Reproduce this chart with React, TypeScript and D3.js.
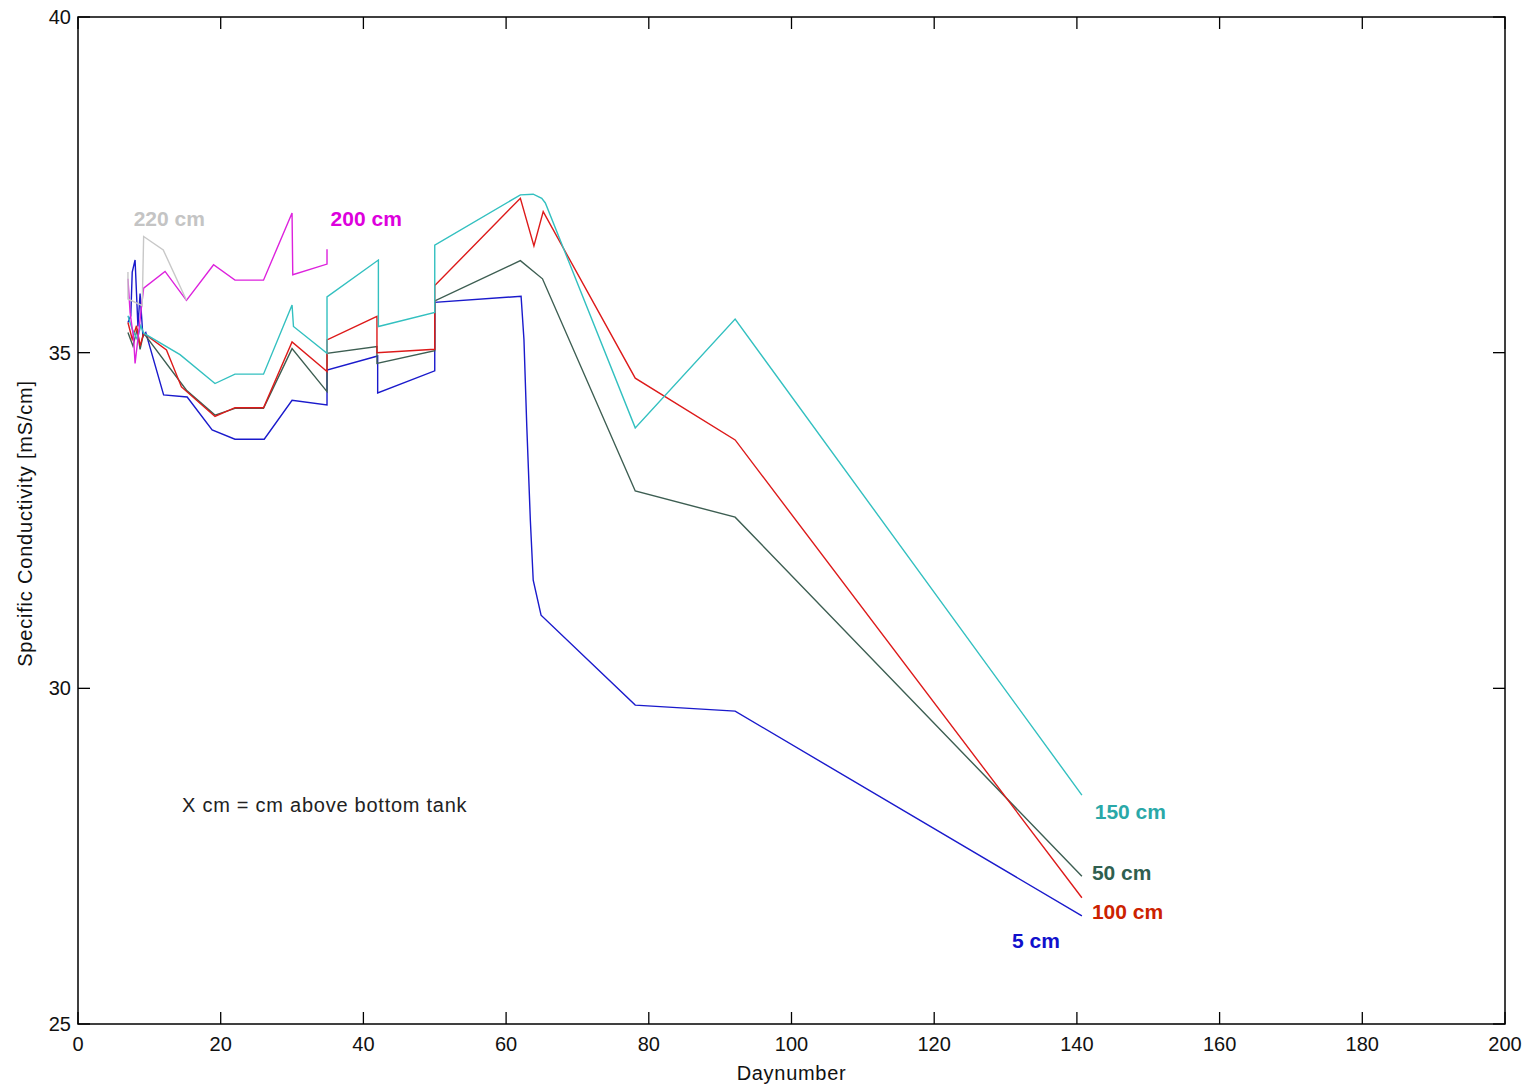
import React from "react";
import * as d3 from "d3";

type P = [number, number];

const xTicks = [0, 20, 40, 60, 80, 100, 120, 140, 160, 180, 200];
const yTicks = [25, 30, 35, 40];

const s5cm: P[] = [
  [7, 35.45], [7.4, 35.55], [7.6, 36.2], [8, 36.38], [8.4, 35.39], [8.7, 35.88], [9.1, 35.24],
  [9.5, 35.3], [12, 34.37], [15.3, 34.34], [18.8, 33.85], [22, 33.71], [26.1, 33.71],
  [30, 34.29], [34.9, 34.22], [34.9, 34.74], [42, 34.95], [42, 34.4], [50, 34.73], [50, 35.75],
  [62.1, 35.84], [62.5, 35.2], [62.9, 33.9], [63.4, 32.5], [63.8, 31.61], [64.9, 31.09],
  [78.1, 29.75], [92.1, 29.66], [140.7, 26.61],
];
const s50cm: P[] = [
  [7, 35.3], [7.7, 35.1], [8.3, 35.35], [8.7, 35.05], [9.2, 35.29], [15.2, 34.44],
  [19.2, 34.07], [22, 34.17], [26, 34.17], [30, 35.06], [34.9, 34.42], [34.9, 34.99],
  [41.9, 35.09], [41.9, 34.84], [50, 35.03], [50, 35.77], [62, 36.37], [65.1, 36.1],
  [78.1, 32.94], [92.1, 32.55], [140.7, 27.2],
];
const s100cm: P[] = [
  [7, 35.45], [7.6, 35.2], [8.2, 35.4], [8.7, 35.1], [9.2, 35.29], [12.4, 35.04],
  [14.5, 34.49], [19.2, 34.05], [22, 34.18], [26, 34.18], [30, 35.16], [34.9, 34.72],
  [34.9, 35.19], [41.9, 35.54], [41.9, 35.0], [50, 35.05], [50, 36.0], [62, 37.3],
  [63.9, 36.59], [65.2, 37.1], [78.1, 34.62], [92.1, 33.7], [140.7, 26.88],
];
const s150cm: P[] = [
  [7, 35.55], [7.6, 35.35], [8.3, 35.2], [8.8, 35.4], [9.2, 35.29], [14.3, 34.97],
  [19.2, 34.54], [22, 34.68], [26, 34.68], [30, 35.71], [30.2, 35.39], [34.9, 34.99],
  [34.9, 35.83], [42.1, 36.38], [42.1, 35.39], [50, 35.6], [50, 36.6], [62, 37.35],
  [63.8, 37.36], [65, 37.3], [65.5, 37.23], [78.1, 33.88], [92.1, 35.5], [140.7, 28.41],
];
const s200cm: P[] = [
  [7, 36.1], [7.3, 35.6], [7.8, 35.2], [8, 34.84], [8.5, 35.3], [9, 35.78], [9.2, 35.96],
  [12.2, 36.21], [15.2, 35.78], [19, 36.31], [22, 36.08], [26, 36.08], [30, 37.08],
  [30.1, 36.16], [34.9, 36.32], [34.9, 36.54],
];
const s220cm: P[] = [
  [7, 36.2], [7, 35.8], [9, 35.7], [9.2, 36.73], [11.95, 36.53], [15.2, 35.78],
];

const seriesNames = ["5 cm", "50 cm", "100 cm", "150 cm", "200 cm", "220 cm"];
const seriesData = [s5cm, s50cm, s100cm, s150cm, s200cm, s220cm];
const seriesColors = ["#1a1acc", "#3d5e52", "#dd1a1a", "#33c0c0", "#dd22dd", "#c8c8c8"];
const labelColors = ["#1010cc", "#2f5f4f", "#cc2200", "#2aa8a8", "#dd00dd", "#c4c4c4"];
// label anchor positions in data units (day, value)
const labelPos: P[] = [
  [130.9, 26.13], [142.1, 27.14], [142.1, 26.56], [142.5, 28.06], [35.4, 36.89], [7.8, 36.89],
];

const W = 1526;
const H = 1085;
const L = 78, R = 1505, T = 17, B = 1024;

export default function App() {
  const x = d3.scaleLinear().domain([0, 200]).range([L, R]);
  const y = d3.scaleLinear().domain([25, 40]).range([B, T]);
  const line = d3.line<P>().x((d) => x(d[0])).y((d) => y(d[1]));
  const font = "'Liberation Sans', Arial, sans-serif";
  const tickLen = 12;

  return (
    <svg
      width={W}
      height={H}
      style={{ position: "absolute", left: 0, top: 0, background: "#fff" }}
      fontFamily={font}
    >
      <rect x={0} y={0} width={W} height={H} fill="#fff" />
      {seriesData.map((s, i) => (
        <path key={i} d={line(s) || ""} fill="none" stroke={seriesColors[i]} strokeWidth={1.4} />
      ))}
      <rect x={L} y={T} width={R - L} height={B - T} fill="none" stroke="#000" strokeWidth={1.5} />
      {xTicks.map((t) => (
        <g key={"x" + t}>
          <line x1={x(t)} x2={x(t)} y1={B} y2={B - tickLen} stroke="#000" strokeWidth={1.3} />
          <line x1={x(t)} x2={x(t)} y1={T} y2={T + tickLen} stroke="#000" strokeWidth={1.3} />
          <text x={x(t)} y={1051} textAnchor="middle" fontSize={20} fill="#111">
            {t}
          </text>
        </g>
      ))}
      {yTicks.map((t) => (
        <g key={"y" + t}>
          <line x1={L} x2={L + tickLen} y1={y(t)} y2={y(t)} stroke="#000" strokeWidth={1.3} />
          <line x1={R} x2={R - tickLen} y1={y(t)} y2={y(t)} stroke="#000" strokeWidth={1.3} />
          <text x={71} y={y(t) + 7} textAnchor="end" fontSize={20} fill="#111">
            {t}
          </text>
        </g>
      ))}
      <text x={x(100)} y={1080} textAnchor="middle" fontSize={20} letterSpacing={0.7} fill="#111">
        Daynumber
      </text>
      <text
        transform={`translate(32, ${(T + B) / 2 + 3}) rotate(-90)`}
        textAnchor="middle"
        fontSize={20}
        letterSpacing={0.8}
        fill="#111"
      >
        Specific Conductivity [mS/cm]
      </text>
      <text x={182} y={812} fontSize={20} letterSpacing={0.75} fill="#222">
        X cm = cm above bottom tank
      </text>
      {seriesNames.map((n, i) => (
        <text
          key={n}
          x={x(labelPos[i][0])}
          y={y(labelPos[i][1])}
          fontSize={21}
          fontWeight="bold"
          fill={labelColors[i]}
        >
          {n}
        </text>
      ))}
    </svg>
  );
}
